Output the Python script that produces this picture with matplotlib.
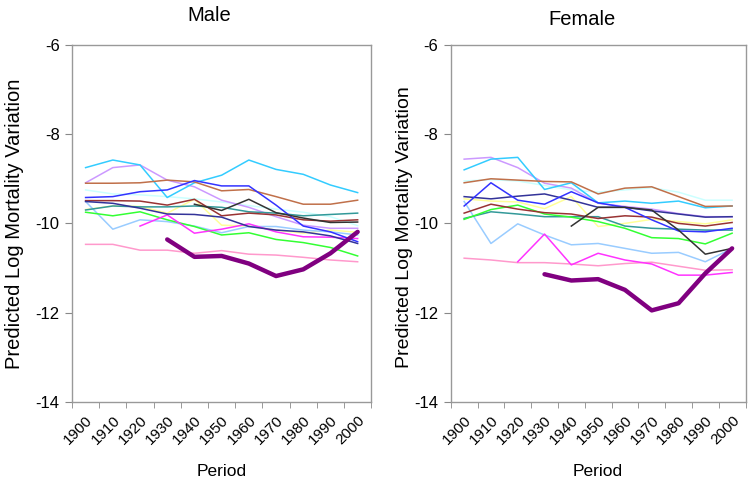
import matplotlib
matplotlib.use("Agg")
import matplotlib.pyplot as plt
import numpy as np

nan = np.nan

periods = ["1900", "1910", "1920", "1930", "1940", "1950",
           "1960", "1970", "1980", "1990", "2000"]

# male series, one value per period
male_cyan = [-8.75, -8.58, -8.69, -9.42, -9.09, -8.92, -8.58, -8.79, -8.90, -9.14, -9.31]
male_lavender = [-9.09, -8.75, -8.69, -9.03, -9.18, -9.48, -9.64, -9.85, -10.04, -10.11, -10.11]
male_sienna = [-9.10, -9.10, -9.09, -9.03, -9.07, -9.27, -9.24, -9.40, -9.57, -9.57, -9.48]
male_blue = [-9.42, -9.40, -9.29, -9.25, -9.04, -9.16, -9.16, -9.59, -10.06, -10.19, -10.41]
male_navy = [-9.51, -9.55, -9.66, -9.79, -9.80, -9.86, -10.07, -10.15, -10.19, -10.28, -10.45]
male_maroon = [-9.49, -9.49, -9.50, -9.59, -9.46, -9.83, -9.77, -9.81, -9.92, -9.95, -9.92]
male_black = [nan, nan, nan, nan, -9.57, -9.71, -9.46, -9.76, -9.88, -9.98, -9.97]
male_teal = [-9.70, -9.61, -9.63, -9.63, -9.61, -9.64, -9.74, -9.77, -9.83, -9.80, -9.77]
male_green = [-9.75, -9.83, -9.74, -9.92, -10.07, -10.26, -10.21, -10.36, -10.43, -10.54, -10.73]
male_skyblue = [-9.51, -10.13, -9.92, -9.96, -10.06, -10.21, -10.07, -10.07, -10.15, -10.19, -10.26]
male_magenta = [nan, nan, -10.06, -9.81, -10.22, -10.13, -10.01, -10.19, -10.30, -10.31, -10.34]
male_pink = [-10.47, -10.47, -10.60, -10.60, -10.67, -10.61, -10.69, -10.71, -10.76, -10.82, -10.86]
male_purple = [nan, nan, nan, -10.36, -10.75, -10.73, -10.90, -11.18, -11.03, -10.67, -10.19]
male_yellow = [-9.69, -9.61, -9.62, -9.77, -9.46, -10.04, -10.06, -10.15, -10.22, -10.15, -10.20]
male_lightcyan = [-9.25, -9.34, -9.36, -9.40, -9.45, -9.52, -9.60, -9.68, -9.75, -9.85, -10.05]

# female series
fem_cyan = [-8.80, -8.56, -8.52, -9.24, -9.09, -9.54, -9.50, -9.55, -9.50, -9.65, -9.61]
fem_lavender = [-8.56, -8.52, -8.75, -9.10, -9.21, -9.55, -9.62, -9.68, -9.78, -9.85, -9.85]
fem_sienna = [-9.09, -9.00, -9.03, -9.06, -9.07, -9.34, -9.21, -9.18, -9.40, -9.62, -9.61]
fem_blue = [-9.61, -9.09, -9.48, -9.57, -9.29, -9.54, -9.64, -9.92, -10.17, -10.19, -10.11]
fem_navy = [-9.40, -9.45, -9.39, -9.34, -9.48, -9.64, -9.64, -9.72, -9.79, -9.86, -9.85]
fem_maroon = [-9.77, -9.57, -9.68, -9.76, -9.79, -9.89, -9.83, -9.86, -10.00, -10.06, -9.98]
fem_black = [nan, nan, nan, nan, -10.06, -9.64, -9.64, -9.70, -10.15, -10.69, -10.56]
fem_teal = [-9.89, -9.74, -9.79, -9.85, -9.85, -9.85, -10.06, -10.11, -10.13, -10.15, -10.15]
fem_green = [-9.91, -9.69, -9.59, -9.79, -9.86, -9.96, -10.11, -10.32, -10.34, -10.46, -10.22]
fem_skyblue = [-9.51, -10.45, -10.01, -10.26, -10.48, -10.45, -10.56, -10.67, -10.65, -10.86, -10.56]
fem_magenta = [nan, nan, -10.86, -10.24, -10.93, -10.67, -10.82, -10.91, -11.16, -11.16, -11.10]
fem_pink = [-10.78, -10.82, -10.88, -10.88, -10.91, -10.95, -10.90, -10.87, -10.96, -11.05, -11.04]
fem_purple = [nan, nan, nan, -11.14, -11.28, -11.25, -11.49, -11.95, -11.79, -11.12, -10.56]
fem_yellow = [-9.45, -9.50, -9.52, -9.67, -9.40, -10.07, -10.00, -9.91, -9.96, -10.01, -9.92]
fem_lightcyan = [-9.05, -9.02, -9.05, -9.15, -9.25, -9.30, -9.25, -9.20, -9.30, -9.48, -9.48]

male_series = [
    (male_lightcyan, "#ccffff"), (male_yellow, "#ffff99"), (male_pink, "#ff99cc"),
    (male_skyblue, "#99ccff"), (male_lavender, "#cc99ff"), (male_cyan, "#33ccff"),
    (male_sienna, "#c0704a"), (male_teal, "#339999"), (male_green, "#33ff33"),
    (male_magenta, "#ff33ff"), (male_maroon, "#993333"), (male_navy, "#333399"),
    (male_blue, "#3333ff"), (male_black, "#333333"),
]
fem_series = [
    (fem_lightcyan, "#ccffff"), (fem_yellow, "#ffff99"), (fem_pink, "#ff99cc"),
    (fem_skyblue, "#99ccff"), (fem_lavender, "#cc99ff"), (fem_cyan, "#33ccff"),
    (fem_sienna, "#c0704a"), (fem_teal, "#339999"), (fem_green, "#33ff33"),
    (fem_magenta, "#ff33ff"), (fem_maroon, "#993333"), (fem_navy, "#333399"),
    (fem_blue, "#3333ff"), (fem_black, "#333333"),
]

plt.rcParams['font.family'] = ['Liberation Sans', 'DejaVu Sans']
NARROW = ['Liberation Sans Narrow', 'Liberation Sans']


def draw_panel(ax, series, purple, title, title_x, title_pad):
    """Dessine un panneau (Male / Female)."""
    x = np.arange(len(periods))
    for values, color in series:
        ax.plot(x, values, color=color, lw=1.1)
    ax.plot(x, purple, color="#800080", lw=3.2, solid_capstyle="round")

    ax.set_xlim(-0.5, len(periods) - 0.5)
    ax.set_ylim(-14, -6)
    ax.set_yticks([-14, -12, -10, -8, -6])
    ax.set_yticklabels(["-14", "-12", "-10", "-8", "-6"], fontsize=12)

    ax.set_xticks(x)
    ax.set_xticklabels(periods, rotation=45, ha="right", va="top",
                       rotation_mode="anchor", fontsize=11, family=NARROW)
    ax.set_xticks(np.arange(-0.5, len(periods)), minor=True)
    ax.tick_params(axis="x", which="major", length=0, pad=8)
    ax.tick_params(axis="x", which="minor", length=4, color="#888888", direction="out")
    ax.tick_params(axis="y", length=5, color="#888888", direction="out", pad=4)

    for s in ax.spines.values():
        s.set_color("#999999")
        s.set_linewidth(1.0)

    ax.set_title(title, fontsize=14.5, x=title_x, pad=title_pad)
    ax.set_xlabel("Period", fontsize=12.5, labelpad=12, family=NARROW)


fig = plt.figure(figsize=(7.5, 4.83), dpi=100)
ax1 = fig.add_axes([0.096, 0.168, 0.399, 0.739])
ax2 = fig.add_axes([0.601, 0.168, 0.393, 0.739])

draw_panel(ax1, male_series, male_purple, "Male", 0.46, 17)
draw_panel(ax2, fem_series, fem_purple, "Female", 0.445, 14)

ax1.set_ylabel("Predicted Log Mortality Variation", fontsize=14.5)
ax1.yaxis.set_label_coords(-0.16, 0.5)
ax2.set_ylabel("Predicted Log Mortality Variation", fontsize=14)
ax2.yaxis.set_label_coords(-0.127, 0.49)

fig.savefig("out.png", dpi=100)
